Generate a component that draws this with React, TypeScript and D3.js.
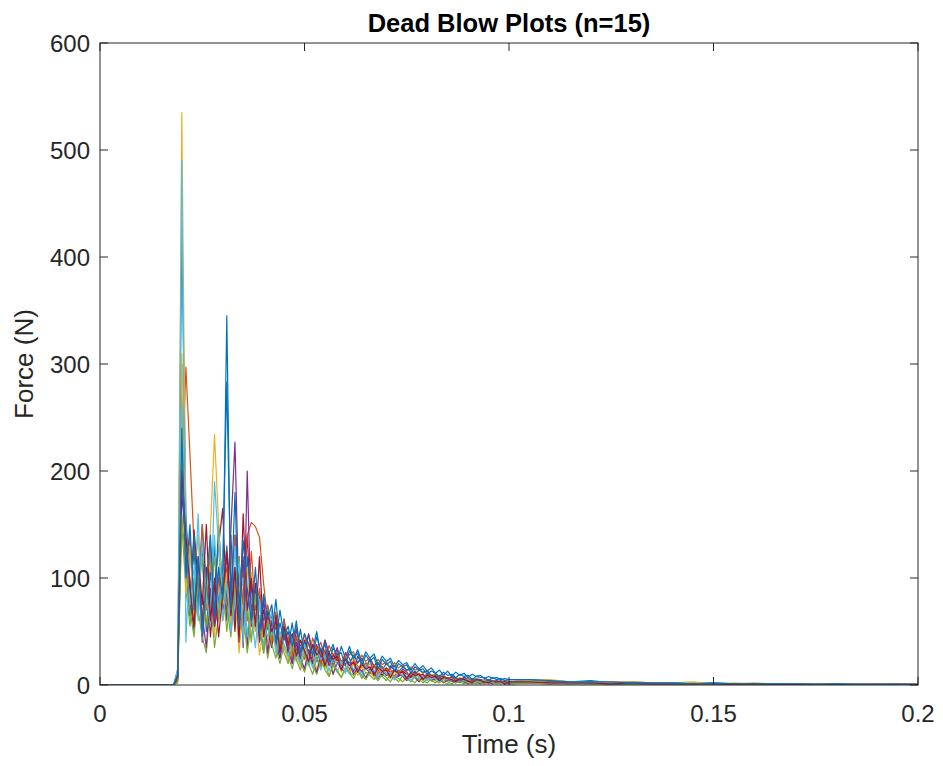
import React, { useEffect, useRef } from "react";
import * as d3 from "d3";

// sample grid: t=0, then 1 ms steps 0.018..0.100, then 5 ms steps 0.105..0.200
const denseStart = 0.018;
const denseStep = 0.001;
const denseCount = 83;
const tailTimes = [0.105, 0.11, 0.115, 0.12, 0.125, 0.13, 0.135, 0.14, 0.145, 0.15,
  0.155, 0.16, 0.165, 0.17, 0.175, 0.18, 0.185, 0.19, 0.195, 0.2];

// force (N) per trial, dense part (83 values) followed by tail (20 values)
const trial01 = [0, 8, 428,
  160, 85, 125, 70, 150, 95, 60, 130, 75, 110,
  283, 90, 140, 60, 115, 75, 95, 50, 85, 60, 70, 45, 80, 40, 62,
  35, 58, 30, 52, 28, 47, 33, 50, 26, 42, 30, 38, 22, 36, 25,
  36, 24, 33, 22, 31, 25, 29, 19, 27, 22, 25, 17, 23, 19, 21, 14, 20, 15, 18, 13,
  16, 11, 14, 9, 13, 8, 12, 9, 11, 7, 10, 8, 9, 6, 8, 6, 7, 5, 6, 5,
  5, 4, 3, 4, 2, 3, 2, 2, 1, 2, 1, 1, 1, 1, 0.5, 1, 0.5, 0.5, 0.5, 0.5];
const trial02 = [0, 15, 180,
  297, 215, 130, 85, 150, 70, 115, 55, 95, 80,
  120, 65, 140, 90, 105, 60, 125, 70, 90, 48, 75, 55, 68, 38, 60,
  45, 30, 55, 35, 48, 25, 44, 32, 40, 22, 37, 28, 34, 20, 30,
  28, 31, 20, 28, 22, 26, 17, 24, 19, 22, 15, 21, 16, 19, 13, 17, 14, 15, 11, 14,
  9, 10, 7, 9, 6, 8, 7, 5, 7, 6, 4, 6, 5, 3, 5, 4, 3, 4, 2, 3,
  4, 3, 3, 2, 3, 2, 2, 1, 2, 1, 1, 1, 1, 0.5, 1, 0.5, 0.5, 0.5, 0.5, 0.5];
const trial03 = [0, 5, 535,
  140, 60, 95, 140, 50, 85, 120, 45, 100, 60,
  80, 130, 55, 95, 40, 75, 105, 50, 65, 35, 58, 42, 55, 30, 48,
  38, 25, 45, 30, 40, 18, 36, 27, 33, 15, 30, 22, 26, 12, 24,
  20, 26, 14, 22, 17, 20, 10, 18, 13, 16, 8, 15, 12, 13, 7, 12, 10, 11, 6, 10,
  8, 9, 5, 8, 7, 6, 4, 7, 5, 6, 3, 5, 4, 5, 2, 4, 3, 4, 2, 3,
  4, 5, 3, 3, 2, 3, 2, 2, 3, 1, 1, 2, 1, 1, 1, 0.5, 1, 0.5, 0.5, 0.5];
const trial04 = [0, 10, 200,
  150, 95, 60, 110, 40, 90, 130, 55, 75, 100,
  60, 145, 227, 70, 120, 35, 95, 60, 80, 30, 65, 45, 55, 28, 50,
  40, 20, 52, 35, 30, 48, 25, 38, 18, 42, 28, 22, 35, 16, 30,
  25, 12, 27, 20, 15, 24, 11, 20, 17, 9, 18, 14, 8, 15, 12, 7, 13, 9, 6, 11,
  8, 5, 9, 7, 4, 8, 6, 3, 7, 5, 3, 6, 4, 2, 5, 3, 2, 4, 3, 2,
  3, 2, 3, 2, 1, 2, 1, 1, 1, 1, 1, 0.5, 1, 0.5, 0.5, 0.5, 0.5, 0.5, 0.5, 0.5];
const trial05 = [0, 4, 150,
  90, 55, 100, 70, 45, 30, 80, 120, 60, 95,
  50, 85, 110, 45, 70, 30, 60, 90, 40, 55, 25, 48, 35, 20, 38,
  28, 15, 32, 22, 12, 27, 18, 10, 24, 14, 8, 20, 12, 7, 16,
  11, 6, 14, 9, 5, 12, 8, 4, 10, 7, 3, 9, 6, 3, 8, 5, 2, 7, 4, 2,
  6, 4, 2, 5, 3, 1, 4, 3, 1, 4, 2, 1, 3, 2, 1, 3, 2, 1, 2, 1,
  2, 1, 2, 1, 1, 1, 0.5, 1, 0.5, 0.5, 0.5, 0.5, 0.5, 0, 0.5, 0, 0.5, 0, 0, 0];
const trial06 = [0, 12, 490,
  40, 130, 75, 160, 55, 110, 85, 140, 65, 120,
  90, 55, 130, 70, 100, 45, 85, 60, 75, 35, 62, 48, 40, 25, 45,
  32, 40, 22, 36, 28, 18, 33, 24, 14, 29, 20, 26, 12, 22, 18,
  10, 20, 15, 8, 17, 12, 18, 7, 14, 11, 6, 13, 9, 11, 5, 10, 8, 4, 9, 7,
  5, 8, 4, 7, 6, 3, 6, 5, 2, 5, 4, 6, 2, 4, 3, 1, 4, 3, 2, 3,
  3, 2, 3, 2, 2, 1, 2, 1, 1, 1, 0.5, 1, 0.5, 1, 0.5, 0.5, 0.5, 0.5, 0.5, 0.5];
const trial07 = [0, 6, 210,
  120, 75, 145, 95, 60, 110, 45, 90, 130, 165,
  70, 100, 50, 115, 75, 140, 60, 95, 45, 70, 55, 35, 65, 40, 52,
  30, 45, 38, 25, 42, 30, 20, 36, 26, 32, 18, 28, 23, 15, 26,
  19, 22, 13, 20, 16, 11, 18, 14, 9, 16, 12, 14, 8, 13, 10, 7, 12, 9, 10, 6,
  9, 7, 5, 8, 6, 7, 4, 6, 5, 3, 6, 4, 5, 2, 4, 3, 4, 2, 3, 2,
  3, 3, 2, 2, 2, 1, 2, 1, 1, 1, 1, 0.5, 1, 0.5, 0.5, 0.5, 0.5, 0.5, 0.5, 0.5];
const trial08 = [0, 9, 300,
  110, 65, 140, 80, 125, 50, 105, 70, 150, 85,
  130, 60, 105, 85, 55, 120, 70, 90, 45, 78, 52, 65, 38, 58, 42,
  50, 34, 44, 26, 40, 31, 36, 22, 34, 27, 30, 18, 29, 22, 25,
  20, 28, 21, 25, 16, 24, 18, 21, 14, 20, 16, 18, 12, 17, 14, 15, 10, 14, 12, 13,
  7, 9, 6, 8, 5, 7, 6, 4, 7, 5, 6, 3, 5, 4, 5, 3, 4, 3, 2, 3,
  4, 3, 3, 2, 2, 2, 1, 2, 1, 1, 1, 1, 0.5, 1, 0.5, 0.5, 0.5, 0.5, 0.5, 0.5];
const trial09 = [0, 7, 230,
  95, 140, 70, 115, 55, 90, 130, 60, 100, 75,
  110, 60, 95, 50, 85, 140, 152, 148, 138, 95, 60, 40, 58, 35, 50,
  42, 28, 46, 32, 24, 40, 30, 36, 20, 33, 26, 17, 30, 21, 27,
  14, 23, 18, 12, 21, 15, 19, 10, 17, 13, 15, 8, 14, 11, 7, 12, 10, 11, 6, 10,
  8, 5, 8, 6, 7, 4, 7, 5, 3, 6, 4, 5, 2, 5, 3, 4, 2, 3, 2, 3,
  3, 3, 2, 2, 1, 2, 1, 1, 1, 1, 0.5, 1, 0.5, 0.5, 0.5, 0.5, 0.5, 0.5, 0.5, 0.5];
const trial10 = [0, 3, 310,
  85, 130, 60, 105, 45, 80, 145, 234, 150, 70,
  105, 55, 90, 30, 75, 110, 45, 65, 28, 55, 40, 62, 30, 48, 35,
  22, 40, 28, 18, 35, 25, 30, 14, 28, 20, 24, 10, 22, 17, 19,
  12, 20, 9, 17, 14, 15, 7, 15, 11, 13, 6, 12, 10, 11, 5, 10, 8, 9, 4, 8,
  7, 6, 3, 7, 5, 6, 2, 5, 4, 5, 2, 4, 3, 4, 1, 3, 3, 2, 1, 3,
  4, 2, 3, 2, 3, 1, 2, 2, 1, 1, 2, 1, 1, 0.5, 1, 0.5, 1, 0.5, 0.5, 1];
const trial11 = [0, 5, 180,
  130, 80, 50, 100, 65, 35, 90, 55, 110, 70,
  85, 140, 60, 120, 35, 200, 55, 90, 40, 80, 30, 60, 42, 25, 48,
  35, 20, 40, 26, 15, 33, 22, 12, 28, 18, 25, 10, 21, 15, 12,
  20, 10, 16, 13, 7, 15, 11, 6, 13, 9, 11, 5, 10, 8, 4, 9, 7, 3, 8, 6,
  4, 6, 5, 2, 5, 4, 2, 5, 3, 1, 4, 3, 1, 3, 2, 1, 3, 2, 1, 2,
  2, 2, 1, 2, 1, 1, 1, 1, 0.5, 1, 0.5, 0.5, 0.5, 0.5, 0.5, 0, 0.5, 0, 0.5, 0];
const trial12 = [0, 2, 160,
  110, 70, 45, 95, 120, 55, 80, 35, 65, 100,
  75, 45, 90, 120, 50, 70, 40, 85, 55, 30, 60, 38, 25, 45, 30,
  20, 35, 24, 14, 30, 20, 10, 26, 17, 22, 8, 19, 14, 7, 16,
  12, 9, 14, 6, 12, 9, 5, 11, 8, 4, 10, 7, 3, 9, 6, 3, 8, 5, 2, 6,
  4, 2, 5, 3, 1, 5, 3, 2, 4, 2, 1, 3, 2, 1, 3, 2, 1, 2, 1, 1,
  2, 1, 1, 1, 1, 0.5, 1, 0.5, 0.5, 0.5, 0.5, 0.5, 0, 0.5, 0, 0.5, 0, 0, 0, 0];
const trial13 = [0, 14, 260,
  150, 75, 110, 60, 135, 85, 55, 190, 130, 60,
  95, 50, 75, 115, 40, 90, 65, 35, 80, 55, 45, 70, 30, 50, 38,
  26, 44, 30, 20, 38, 27, 16, 32, 24, 28, 13, 26, 19, 22, 11,
  20, 15, 17, 9, 18, 12, 14, 7, 15, 10, 12, 5, 12, 9, 10, 4, 10, 7, 8, 4,
  8, 6, 3, 7, 5, 6, 2, 6, 4, 5, 2, 4, 3, 4, 1, 4, 3, 2, 1, 3,
  3, 2, 2, 3, 1, 2, 1, 2, 1, 1, 1, 0.5, 1, 0.5, 0.5, 0.5, 0.5, 0.5, 0.5, 0.5];
const trial14 = [0, 8, 200,
  140, 90, 55, 120, 75, 150, 60, 100, 45, 85,
  125, 65, 110, 40, 160, 70, 100, 55, 120, 45, 68, 50, 60, 32, 55,
  38, 48, 27, 42, 32, 22, 38, 28, 33, 18, 30, 24, 27, 14, 24,
  18, 21, 12, 19, 15, 17, 9, 16, 13, 14, 7, 14, 11, 12, 6, 11, 9, 10, 5, 9,
  7, 8, 4, 7, 6, 5, 3, 6, 5, 4, 2, 5, 4, 3, 2, 4, 3, 3, 1, 3,
  3, 2, 2, 2, 1, 2, 1, 1, 1, 1, 0.5, 1, 0.5, 0.5, 0.5, 0.5, 0.5, 0.5, 0.5, 0.5];
const trial15 = [0, 10, 240,
  100, 150, 70, 120, 45, 95, 140, 65, 110, 80,
  345, 70, 180, 55, 135, 90, 60, 110, 50, 85, 62, 75, 40, 70, 45,
  55, 36, 60, 30, 48, 38, 28, 45, 32, 38, 22, 35, 28, 30, 18,
  32, 25, 30, 18, 28, 22, 26, 15, 24, 19, 22, 13, 20, 17, 19, 11, 17, 14, 15, 10,
  13, 11, 8, 12, 9, 10, 7, 10, 8, 9, 5, 8, 7, 7, 4, 7, 5, 6, 4, 5,
  5, 4, 3, 3, 3, 2, 2, 2, 1, 2, 1, 1, 1, 1, 0.5, 1, 0.5, 0.5, 0.5, 0.5];

const trials = [trial01, trial02, trial03, trial04, trial05, trial06, trial07, trial08,
  trial09, trial10, trial11, trial12, trial13, trial14, trial15];

// MATLAB default line colour order
const lineColors = ["#0072BD", "#D95319", "#EDB120", "#7E2F8E", "#77AC30", "#4DBEEE", "#A2142F"];

const xTicks = [0, 0.05, 0.1, 0.15, 0.2];
const xTickLabels = ["0", "0.05", "0.1", "0.15", "0.2"];
const yTicks = [0, 100, 200, 300, 400, 500, 600];

const App = () => {
  const ref = useRef<SVGSVGElement>(null);

  useEffect(() => {
    const svg = d3.select(ref.current);
    svg.selectAll("*").remove();

    const left = 100, right = 918, top = 43, bottom = 685;
    const axisColor = "#262626";
    const font = "'Liberation Sans', Arial, Helvetica, sans-serif";

    const x = d3.scaleLinear().domain([0, 0.2]).range([left, right]);
    const y = d3.scaleLinear().domain([0, 600]).range([bottom, top]);

    const times = [0, ...d3.range(denseCount).map((i) => denseStart + i * denseStep), ...tailTimes];

    svg.append("defs").append("clipPath").attr("id", "plot-clip")
      .append("rect")
      .attr("x", left).attr("y", top)
      .attr("width", right - left).attr("height", bottom - top);

    const line = d3.line<number>()
      .x((_, i) => x(times[i]))
      .y((d) => y(d));

    // Lines
    svg.append("g")
      .attr("clip-path", "url(#plot-clip)")
      .selectAll("path")
      .data(trials.map((t) => [0, ...t]))
      .enter()
      .append("path")
      .attr("d", (d) => line(d))
      .attr("fill", "none")
      .attr("stroke", (_, i) => lineColors[i % lineColors.length])
      .attr("stroke-width", 1.2)
      .attr("stroke-linejoin", "round");

    // Box
    svg.append("rect")
      .attr("x", left).attr("y", top)
      .attr("width", right - left).attr("height", bottom - top)
      .attr("fill", "none")
      .attr("stroke", axisColor)
      .attr("stroke-width", 1);

    // Ticks (inward, on all four sides)
    const tickLen = 8;
    const ticks = svg.append("g").attr("stroke", axisColor).attr("stroke-width", 1);
    xTicks.forEach((t) => {
      ticks.append("line").attr("x1", x(t)).attr("x2", x(t)).attr("y1", bottom).attr("y2", bottom - tickLen);
      ticks.append("line").attr("x1", x(t)).attr("x2", x(t)).attr("y1", top).attr("y2", top + tickLen);
    });
    yTicks.forEach((t) => {
      ticks.append("line").attr("x1", left).attr("x2", left + tickLen).attr("y1", y(t)).attr("y2", y(t));
      ticks.append("line").attr("x1", right).attr("x2", right - tickLen).attr("y1", y(t)).attr("y2", y(t));
    });

    // text is positioned by its baseline
    const label = (txt: string, px: number, py: number, size: number, anchor: string, weight = "normal", rotate = 0) =>
      svg.append("text")
        .attr("transform", `translate(${px},${py}) rotate(${rotate})`)
        .attr("text-anchor", anchor)
        .attr("font-family", font)
        .attr("font-size", size)
        .attr("font-weight", weight)
        .attr("fill", weight === "bold" ? "#000" : axisColor)
        .text(txt);

    xTicks.forEach((t, i) => label(xTickLabels[i], x(t), 722, 24, "middle"));
    yTicks.forEach((t) => label(String(t), 90, y(t) + 8.5, 24, "end"));

    label("Time (s)", (left + right) / 2, 753, 26, "middle");
    label("Force (N)", 33, (top + bottom) / 2, 26, "middle", "normal", -90);
    label("Dead Blow Plots (n=15)", (left + right) / 2, 32, 25.5, "middle", "bold");
  }, []);

  return (
    <svg
      ref={ref}
      width={943}
      height={766}
      style={{ position: "absolute", left: 0, top: 0, background: "#fff" }}
    />
  );
};

export default App;
